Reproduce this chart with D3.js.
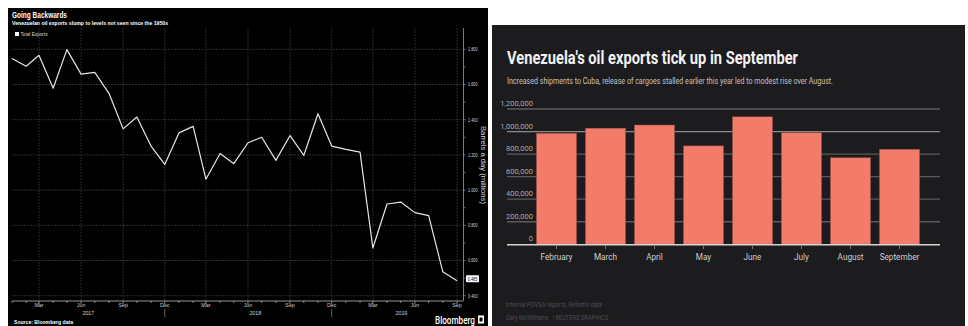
<!DOCTYPE html>
<html><head><meta charset="utf-8">
<script src="https://cdn.jsdelivr.net/npm/d3@7"></script>
<style>html,body{margin:0;padding:0;background:#fff;}svg{display:block;}</style>
</head><body>
<script>
// ---------- Left chart data (Bloomberg) ----------
const leftStart = "2017-01-01";
const leftValues = [1.748,1.704,1.766,1.579,1.798,1.659,1.669,1.550,1.348,1.415,1.250,1.146,
  1.325,1.362,1.062,1.208,1.150,1.269,1.300,1.169,1.310,1.197,1.434,1.250,
  1.231,1.216,0.671,0.921,0.932,0.872,0.855,0.536,0.485];
const leftYTicks = [0.4,0.6,0.8,1.0,1.2,1.4,1.6,1.8];
const leftQuarterLabels = ["Mar","Jun","Sep","Dec"];
const leftYears = ["2017","2018","2019"];
const lastLabel = "0.485";

// ---------- Right chart data (Reuters) ----------
const rightMonths = ["February","March","April","May","June","July","August","September"];
const rightValues = [985000,1030000,1058000,873000,1131000,990000,768000,843000];
const rightYTicks = [0,200000,400000,600000,800000,1000000,1200000];

const W = 968, H = 326;
const svg = d3.select("body").append("svg").attr("width",W).attr("height",H);
svg.append("rect").attr("width",W).attr("height",H).attr("fill","#fff");

// ================= LEFT PANEL =================
const L = svg.append("g");
L.append("rect").attr("x",8).attr("y",8).attr("width",480).attr("height",318).attr("fill","#000");

const parse = d3.utcParse("%Y-%m-%d");
const t0 = parse(leftStart);
const leftData = leftValues.map((v,i)=>({date: d3.utcMonth.offset(t0,i), v}));
const tEnd = leftData[leftData.length-1].date;
const xL = d3.scaleUtc().domain([t0,tEnd]).range([12,457]);
const yL = d3.scaleLinear().domain([0.37,1.9]).range([301,31.7]);
const narrow = "Liberation Sans Narrow, Liberation Sans, sans-serif";

// horizontal gridlines
L.append("g").selectAll("line").data(leftYTicks).join("line")
  .attr("x1",12).attr("x2",463).attr("y1",d=>yL(d)).attr("y2",d=>yL(d))
  .attr("stroke","#3a3a3a").attr("stroke-width",0.8).attr("stroke-dasharray","2,1");
// vertical gridlines at quarter months
const quarterDates = d3.utcMonths(t0, d3.utcMonth.offset(tEnd,1)).filter(d=>[2,5,8,11].includes(d.getUTCMonth()));
L.append("g").selectAll("line").data(quarterDates).join("line")
  .attr("x1",d=>xL(d)).attr("x2",d=>xL(d)).attr("y1",28).attr("y2",301)
  .attr("stroke","#333").attr("stroke-width",0.8).attr("stroke-dasharray","2,1");

// line
L.append("path").datum(leftData)
  .attr("d", d3.line().x(d=>xL(d.date)).y(d=>yL(d.v)))
  .attr("fill","none").attr("stroke","#e6e6e6").attr("stroke-width",1.2).attr("stroke-linejoin","round");

// x axis
L.append("line").attr("x1",12).attr("x2",463).attr("y1",301).attr("y2",301).attr("stroke","#bdbdbd").attr("stroke-width",0.8);
const allMonths = d3.utcMonths(t0, d3.utcMonth.offset(tEnd,1));
L.append("g").selectAll("line").data(allMonths).join("line")
  .attr("x1",d=>xL(d)).attr("x2",d=>xL(d)).attr("y1",301).attr("y2",d=>[2,5,8,11].includes(d.getUTCMonth())?304:303)
  .attr("stroke","#bdbdbd").attr("stroke-width",0.7);
L.append("g").selectAll("text").data(quarterDates).join("text")
  .attr("x",d=>xL(d)).attr("y",307).attr("text-anchor","middle")
  .attr("font-family",narrow).attr("font-size",5.3).attr("fill","#cfcfcf")
  .text(d=>leftQuarterLabels[[2,5,8,11].indexOf(d.getUTCMonth())]);
// year separators
L.append("g").selectAll("line").data(quarterDates.filter(d=>d.getUTCMonth()===11)).join("line")
  .attr("x1",d=>xL(d)).attr("x2",d=>xL(d)).attr("y1",309).attr("y2",317)
  .attr("stroke","#888").attr("stroke-width",0.7);
// year labels centered on visible span
L.append("g").selectAll("text").data(leftYears).join("text")
  .attr("x",y=>{const s=leftData.filter(d=>String(d.date.getUTCFullYear())===y);return (xL(s[0].date)+xL(s[s.length-1].date))/2;})
  .attr("y",315).attr("text-anchor","middle")
  .attr("font-family",narrow).attr("font-size",5.3).attr("fill","#cfcfcf")
  .text(d=>d);

// right y axis
L.append("line").attr("x1",463.5).attr("x2",463.5).attr("y1",28).attr("y2",301).attr("stroke","#9a9a9a").attr("stroke-width",0.8);
const minorY = d3.range(0.4,1.85,0.1);
L.append("g").selectAll("line").data(minorY).join("line")
  .attr("x1",463.5).attr("x2",465.5).attr("y1",d=>yL(d)).attr("y2",d=>yL(d)).attr("stroke","#9a9a9a").attr("stroke-width",0.7);
L.append("g").selectAll("text").data(leftYTicks).join("text")
  .attr("x",468).attr("y",d=>yL(d)+1.8).attr("font-family",narrow)
  .attr("font-size",5).attr("fill","#d8d8d8").attr("textLength",9.5).attr("lengthAdjust","spacingAndGlyphs")
  .text(d=>d3.format(".3f")(d));
// y axis title
L.append("text").attr("transform","translate(483.5,165) rotate(90)").attr("text-anchor","middle")
  .attr("dy","0.35em")
  .attr("font-family","Liberation Sans, sans-serif").attr("font-size",6.5).attr("fill","#d8d8d8")
  .attr("textLength",78).attr("lengthAdjust","spacingAndGlyphs")
  .text("Barrels a day (millions)");
// last value box
const lastY = yL(leftValues[leftValues.length-1]) - 2;
L.append("rect").attr("x",466).attr("y",lastY-3.6).attr("width",13).attr("height",7.2).attr("fill","#fff").attr("rx",0.8);
L.append("text").attr("x",472.5).attr("y",lastY+1.9).attr("text-anchor","middle")
  .attr("font-family",narrow).attr("font-size",5).attr("fill","#000")
  .attr("textLength",9.5).attr("lengthAdjust","spacingAndGlyphs").text(lastLabel);

// titles
L.append("text").attr("x",12).attr("y",18).attr("font-family","Liberation Sans, sans-serif").attr("font-weight","bold")
  .attr("font-size",8.2).attr("fill","#fff").attr("textLength",55).attr("lengthAdjust","spacingAndGlyphs").text("Going Backwards");
L.append("text").attr("x",12).attr("y",25).attr("font-family","Liberation Sans, sans-serif").attr("font-weight","bold")
  .attr("font-size",6).attr("fill","#fff").attr("textLength",156).attr("lengthAdjust","spacingAndGlyphs")
  .text("Venezuelan oil exports slump to levels not seen since the 1950s");
L.append("rect").attr("x",15).attr("y",32).attr("width",4).attr("height",4).attr("fill","#fff");
L.append("text").attr("x",20.5).attr("y",36).attr("font-family","Liberation Sans, sans-serif")
  .attr("font-size",5.2).attr("fill","#ddd").attr("textLength",27).attr("lengthAdjust","spacingAndGlyphs").text("Total Exports");
L.append("text").attr("x",14).attr("y",323.5).attr("font-family","Liberation Sans, sans-serif").attr("font-weight","bold")
  .attr("font-size",5.8).attr("fill","#fff").attr("textLength",59).attr("lengthAdjust","spacingAndGlyphs").text("Source: Bloomberg data");
L.append("text").attr("x",435).attr("y",323.5).attr("font-family","Roboto, sans-serif").attr("font-weight","500")
  .attr("font-size",10.5).attr("fill","#fff").attr("textLength",40).attr("lengthAdjust","spacingAndGlyphs").text("Bloomberg");
L.append("rect").attr("x",478).attr("y",315.5).attr("width",6).attr("height",8).attr("fill","#fff");
L.append("rect").attr("x",479.5).attr("y",317.5).attr("width",3).attr("height",4).attr("fill","#000");

// ================= RIGHT PANEL =================
const R = svg.append("g");
R.append("rect").attr("x",492).attr("y",25).attr("width",473).attr("height",301).attr("fill","#1c1b1e");

const xR = d3.scaleBand().domain(rightMonths).range([532,924]).paddingInner(0.18).paddingOuter(0.09);
const yR = d3.scaleLinear().domain([0,1200000]).range([244.3,109]);

// gridlines
R.append("g").selectAll("line").data(rightYTicks.filter(d=>d>0)).join("line")
  .attr("x1",507).attr("x2",940).attr("y1",d=>yR(d)).attr("y2",d=>yR(d))
  .attr("stroke",d=>d===1000000?"#8a8a8c":"#5a5a5d").attr("stroke-width",1.3);
R.append("g").selectAll("text").data(rightYTicks).join("text")
  .attr("x",533).attr("y",d=>yR(d)-3).attr("text-anchor","end")
  .attr("font-family","Roboto, sans-serif").attr("font-size",7.6).attr("fill","#a8a8a8")
  .text(d=>d3.format(",")(d));

// bars
R.append("g").selectAll("rect").data(rightMonths).join("rect")
  .attr("x",d=>xR(d)).attr("width",xR.bandwidth())
  .attr("y",(d,i)=>yR(rightValues[i])).attr("height",(d,i)=>yR(0)-yR(rightValues[i]))
  .attr("fill","#f27b69").attr("stroke","#8a4a40").attr("stroke-width",0.5);

// baseline
R.append("line").attr("x1",507).attr("x2",940).attr("y1",yR(0)+0.5).attr("y2",yR(0)+0.5).attr("stroke","#d5d5d5").attr("stroke-width",1.6);
R.append("g").selectAll("line").data(rightMonths).join("line")
  .attr("x1",d=>xR(d)+xR.bandwidth()/2).attr("x2",d=>xR(d)+xR.bandwidth()/2).attr("y1",246).attr("y2",249)
  .attr("stroke","#8a8a8a").attr("stroke-width",0.8);
R.append("g").selectAll("text").data(rightMonths).join("text")
  .attr("x",d=>xR(d)+xR.bandwidth()/2).attr("y",260).attr("text-anchor","middle")
  .attr("font-family","Roboto, sans-serif").attr("font-size",8.2).attr("fill","#cfcfcf").text(d=>d);

// titles
R.append("text").attr("x",507).attr("y",63.5).attr("font-family","Roboto, sans-serif").attr("font-weight","bold")
  .attr("font-size",18).attr("fill","#f2f2f2").attr("textLength",291).attr("lengthAdjust","spacingAndGlyphs")
  .text("Venezuela's oil exports tick up in September");
R.append("text").attr("x",507).attr("y",84).attr("font-family","Roboto, sans-serif")
  .attr("font-size",8.6).attr("fill","#c4c4c4").attr("textLength",326).attr("lengthAdjust","spacingAndGlyphs")
  .text("Increased shipments to Cuba, release of cargoes stalled earlier this year led to modest rise over August.");
R.append("text").attr("x",506).attr("y",307).attr("font-family","Roboto, sans-serif")
  .attr("font-size",7.6).attr("fill","#4e4e52").attr("textLength",96).attr("lengthAdjust","spacingAndGlyphs")
  .text("Internal PDVSA reports, Refinitiv data");
R.append("text").attr("x",506).attr("y",319.5).attr("font-family","Roboto, sans-serif")
  .attr("font-size",7.6).attr("fill","#4e4e52").attr("textLength",102).attr("lengthAdjust","spacingAndGlyphs")
  .attr("xml:space","preserve")
  .text("Gary McWilliams   | REUTERS GRAPHICS");
</script>
</body></html>
